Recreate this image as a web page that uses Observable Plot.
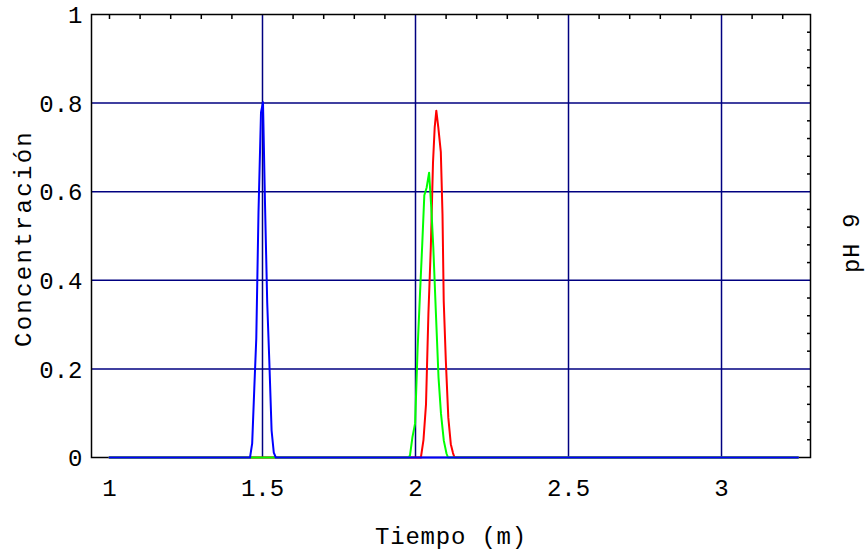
<!DOCTYPE html>
<html>
<head>
<meta charset="utf-8">
<script src="https://cdn.jsdelivr.net/npm/d3@7"></script>
<script src="https://cdn.jsdelivr.net/npm/@observablehq/plot@0.6"></script>
<style>
  html, body { margin: 0; padding: 0; background: #ffffff; }
  #chart svg { display: block; }
</style>
</head>
<body>
<div id="chart"></div>
<script>
// Tick values
const xTicks = [1, 1.5, 2, 2.5, 3];
const yTicks = [0, 0.2, 0.4, 0.6, 0.8, 1];
const xGrid = [1.5, 2, 2.5, 3];
const yGrid = [0.2, 0.4, 0.6, 0.8];
const topMinorTicks = [1.0,1.1,1.2,1.3,1.4,1.6,1.7,1.8,1.9,2.1,2.2,2.3,2.4,2.6,2.7,2.8,2.9,3.1,3.2];
const rightMinorTicks = [0.04,0.08,0.12,0.16,0.24,0.28,0.32,0.36,0.44,0.48,0.52,0.56,0.64,0.68,0.72,0.76,0.84,0.88,0.92,0.96];

// Labels
const xLabel = "Tiempo (m)";
const yLabel = "Concentración";
const sideLabel = "pH 9";

// Series (time in minutes, concentration)
const redX   = [1, 2.0176, 2.0261, 2.0343, 2.0422, 2.050, 2.0572, 2.0627, 2.068, 2.0745, 2.0827, 2.0882, 2.0922, 2.099, 2.1072, 2.1154, 2.1225, 2.1275, 3.25];
const redY   = [0, 0,      0.04,   0.12,   0.325,  0.474, 0.666,  0.745,  0.783, 0.745,  0.69,   0.55,   0.354,  0.22,  0.09,   0.03,   0.01,   0,      0];

const greenX = [1, 1.978, 1.982, 1.990, 1.9987, 2.0069, 2.0147, 2.0219, 2.0288, 2.0363, 2.0444, 2.0516, 2.0582, 2.0663, 2.0752, 2.0833, 2.0925, 2.1013, 2.1062, 3.25];
const greenY = [0, 0,     0.005, 0.046, 0.077,  0.246,  0.37,   0.479,  0.592,  0.609,  0.643,  0.564,  0.474,  0.332,  0.181,  0.099,  0.038,  0.009,  0,      0];

const blueX  = [1, 1.4592, 1.4663, 1.4732, 1.4797, 1.4869, 1.4951, 1.5016, 1.5082, 1.5154, 1.5222, 1.5297, 1.5369, 1.5435, 3.25];
const blueY  = [0, 0,      0.032,  0.156,  0.269,  0.553,  0.779,  0.802,  0.573,  0.35,   0.219,  0.061,  0.011,  0,      0];

const series = [
  {name: "red",   xs: redX,   ys: redY,   color: "#ff0000"},
  {name: "green", xs: greenX, ys: greenY, color: "#00ff00"},
  {name: "blue",  xs: blueX,  ys: blueY,  color: "#0000ff"}
];
const toRows = s => s.xs.map((x, i) => ({x, y: s.ys[i]}));

const font = "'Liberation Mono', 'Courier New', monospace";
const fmt = d => String(d);

const chart = Plot.plot({
  width: 867,
  height: 560,
  marginLeft: 91,
  marginRight: 57,
  marginTop: 14,
  marginBottom: 103,
  x: {domain: [0.9412, 3.2908], label: null},
  y: {domain: [0, 1], label: null},
  style: {fontFamily: font, fontSize: "24px", background: "#ffffff", color: "#000000"},
  marks: [
    Plot.gridX(xGrid, {stroke: "#000080", strokeOpacity: 1, strokeWidth: 1.5}),
    Plot.gridY(yGrid, {stroke: "#000080", strokeOpacity: 1, strokeWidth: 1.5}),
    Plot.frame({stroke: "#000000", strokeWidth: 1.5}),
    Plot.axisX(topMinorTicks, {anchor: "top", label: null, tickSize: -4, tickFormat: () => "", stroke: "#000000", strokeWidth: 1.5}),
    Plot.axisY(rightMinorTicks, {anchor: "right", label: null, tickSize: -4, tickFormat: () => "", stroke: "#000000", strokeWidth: 1.5}),
    ...series.map(s => Plot.line(toRows(s), {x: "x", y: "y", stroke: s.color, strokeWidth: 2})),
    Plot.axisX(xTicks, {anchor: "bottom", label: null, tickSize: 0, tickPadding: 21, tickFormat: fmt, fontSize: 24, fill: "#000000"}),
    Plot.axisY(yTicks, {anchor: "left", label: null, tickSize: 0, tickPadding: 9, tickFormat: fmt, fontSize: 24, fill: "#000000", dy: 1}),
    Plot.text([xLabel], {text: d => d, frameAnchor: "bottom", textAnchor: "middle", dy: 86, fontSize: 24, fill: "#000000"}),
    Plot.text([yLabel], {text: d => d, frameAnchor: "left", textAnchor: "middle", dx: -68, dy: 2.5, rotate: -90, fontSize: 24, fill: "#000000"}),
    Plot.text([sideLabel], {text: d => d, frameAnchor: "right", textAnchor: "middle", dx: 41, dy: 7, rotate: -90, fontSize: 24, fill: "#000000"})
  ]
});
d3.select(chart).selectAll("text").each(function() {
  const t = this.textContent;
  if (t === yLabel) d3.select(this).style("letter-spacing", "2.3px");
  if (t === xLabel) d3.select(this).style("letter-spacing", "0.8px");
  if (t === sideLabel) d3.select(this).style("letter-spacing", "0.6px");
});
document.getElementById("chart").appendChild(chart);
</script>
</body>
</html>
